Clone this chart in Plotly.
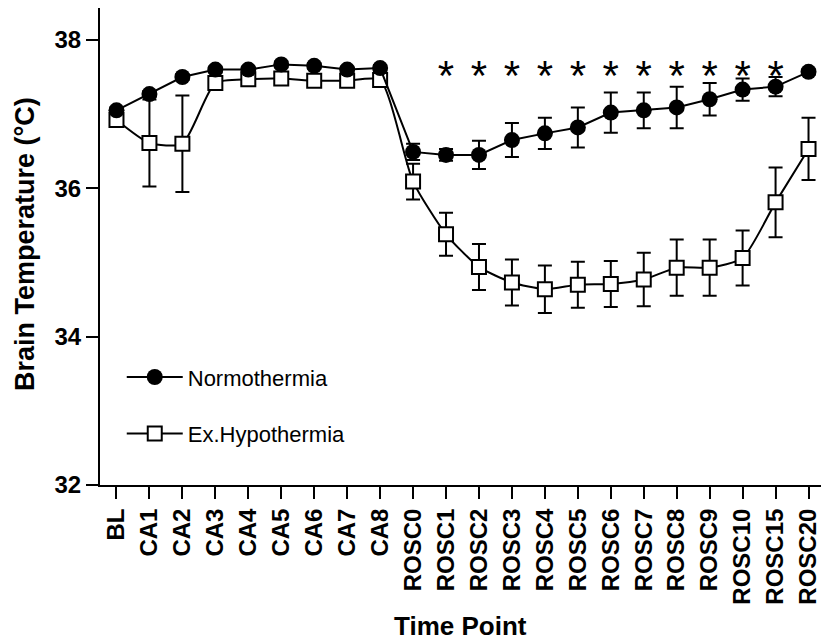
import plotly.graph_objects as go

time_points = ["BL", "CA1", "CA2", "CA3", "CA4", "CA5", "CA6", "CA7", "CA8",
               "ROSC0", "ROSC1", "ROSC2", "ROSC3", "ROSC4", "ROSC5", "ROSC6",
               "ROSC7", "ROSC8", "ROSC9", "ROSC10", "ROSC15", "ROSC20"]

normo_mean = [37.05, 37.27, 37.50, 37.60, 37.60, 37.67, 37.65, 37.60, 37.62,
              36.49, 36.45, 36.45, 36.65, 36.74, 36.82, 37.02,
              37.05, 37.09, 37.20, 37.33, 37.37, 37.57]
normo_err = [0.04, 0.04, 0.04, 0.04, 0.04, 0.04, 0.04, 0.04, 0.04,
             0.11, 0.08, 0.19, 0.23, 0.21, 0.27, 0.27,
             0.24, 0.28, 0.22, 0.15, 0.13, 0.04]

hypo_mean = [36.92, 36.61, 36.60, 37.42, 37.47, 37.48, 37.45, 37.45, 37.46,
             36.09, 35.38, 34.94, 34.73, 34.64, 34.70, 34.71,
             34.77, 34.93, 34.93, 35.06, 35.81, 36.53]
hypo_err = [0.04, 0.585, 0.65, 0.04, 0.04, 0.04, 0.04, 0.04, 0.04,
            0.24, 0.29, 0.31, 0.31, 0.32, 0.31, 0.31,
            0.36, 0.38, 0.38, 0.37, 0.47, 0.42]

# time points with significant difference (*)
sig_points = ["ROSC1", "ROSC2", "ROSC3", "ROSC4", "ROSC5", "ROSC6",
              "ROSC7", "ROSC8", "ROSC9", "ROSC10", "ROSC15"]
star_level = 37.47

font = "Liberation Sans, Arial, sans-serif"

fig = go.Figure()

fig.add_trace(go.Scatter(
    x=time_points, y=hypo_mean, name="Ex.Hypothermia",
    mode="lines+markers", legendgroup="h", legendrank=2,
    line=dict(color="black", width=2, shape="spline", smoothing=0.6),
    marker=dict(symbol="square", size=14, color="white",
                line=dict(color="black", width=2)),
    error_y=dict(type="data", array=hypo_err, color="black", thickness=2, width=7),
))

fig.add_trace(go.Scatter(
    x=time_points, y=normo_mean, name="Normothermia",
    mode="lines+markers", legendgroup="n", legendrank=1,
    line=dict(color="black", width=2),
    marker=dict(symbol="circle", size=16, color="black"),
    error_y=dict(type="data", array=normo_err, color="black", thickness=2, width=7),
))

fig.add_trace(go.Scatter(
    x=sig_points, y=[star_level] * len(sig_points),
    mode="text", text=["*"] * len(sig_points), showlegend=False,
    textfont=dict(family=font, size=42, color="black"),
    hoverinfo="skip",
))

# page body has an 8px margin, so the figure is a bit smaller than the window
fig.update_layout(
    width=821, height=635,
    margin=dict(l=92, r=4, t=0, b=158),
    plot_bgcolor="white", paper_bgcolor="white",
    font=dict(family=font, color="black"),
    legend=dict(x=0.03, y=0.27, xanchor="left", yanchor="top",
                font=dict(size=22, family=font), tracegroupgap=25,
                bgcolor="rgba(0,0,0,0)", itemwidth=56),
)

# axis titles as annotations so they sit where the original has them
fig.add_annotation(text="<b>Brain Temperature (°C)</b>", textangle=-90,
                   xref="paper", yref="paper", x=-0.1269, y=0.505,
                   xanchor="left", yanchor="middle", showarrow=False,
                   font=dict(size=27, family=font))
fig.add_annotation(text="<b>Time Point</b>",
                   xref="paper", yref="paper", x=0.497, y=-0.331,
                   xanchor="center", yanchor="bottom", showarrow=False,
                   font=dict(size=26, family=font))

fig.update_xaxes(
    range=[-0.5, 21.5], showline=True, linecolor="black", linewidth=2,
    ticks="outside", ticklen=12, tickwidth=2, tickcolor="black",
    tickangle=-90, showgrid=False, zeroline=False, automargin=False,
    tickfont=dict(size=24, family=font, weight="bold"),
)

fig.update_yaxes(
    range=[32, 38.43], tickvals=[32, 34, 36, 38], showline=True,
    linecolor="black", linewidth=2, ticks="outside", ticklen=12, tickwidth=2,
    tickcolor="black", showgrid=False, zeroline=False, automargin=False,
    tickfont=dict(size=24, family=font, weight="bold"),
)

fig.write_html("out.html")
